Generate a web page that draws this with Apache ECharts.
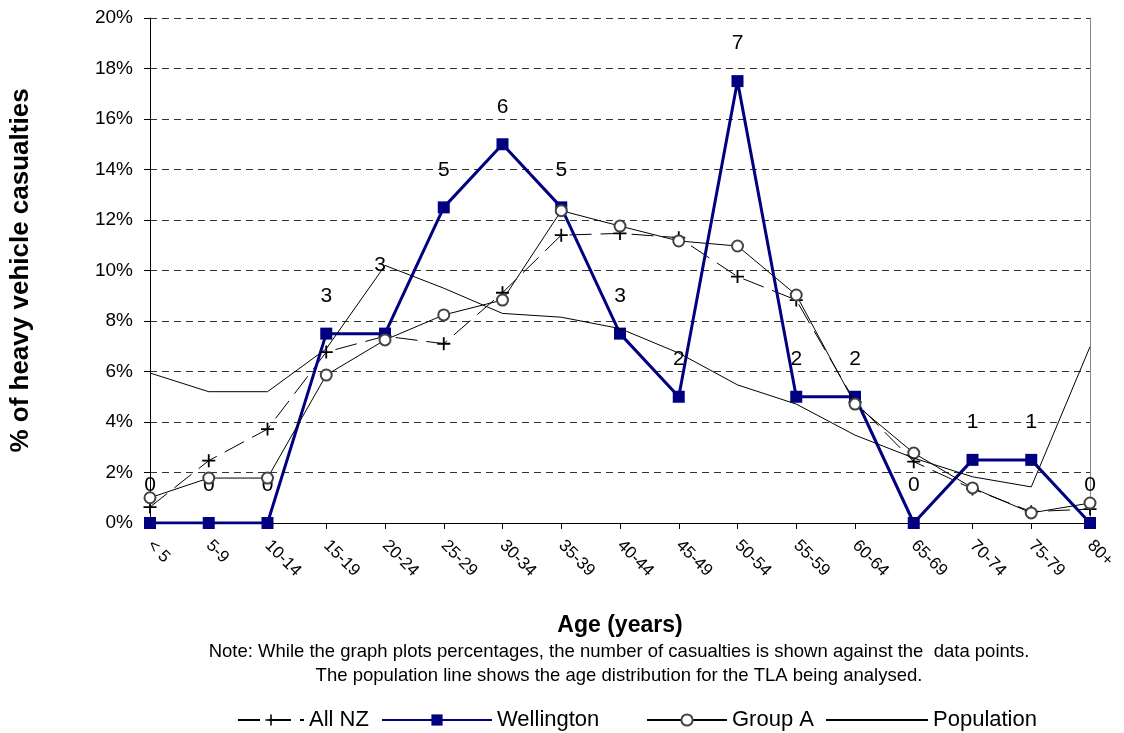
<!DOCTYPE html>
<html>
<head>
<meta charset="utf-8">
<script src="https://cdn.jsdelivr.net/npm/echarts@6/dist/echarts.min.js"></script>
<style>
html,body{margin:0;padding:0;background:#fff;}
#chart{width:1124px;height:733px;}
</style>
</head>
<body>
<div id="chart"></div>
<script>
// ---- data ----
var categories = ['< 5','5-9','10-14','15-19','20-24','25-29','30-34','35-39','40-44','45-49','50-54','55-59','60-64','65-69','70-74','75-79','80+'];
var allNZ      = [0.63, 2.47, 3.72, 6.77, 7.4, 7.1, 9.12, 11.4, 11.47, 11.3, 9.76, 8.83, 4.8, 2.43, 1.35, 0.45, 0.55];
var wellington = [0, 0, 0, 7.5, 7.5, 12.5, 15, 12.5, 7.5, 5, 17.5, 5, 5, 0, 2.5, 2.5, 0];
var wellingtonCounts = [0, 0, 0, 3, 3, 5, 6, 5, 3, 2, 7, 2, 2, 0, 1, 1, 0];
var groupA     = [1.0, 1.78, 1.78, 5.86, 7.25, 8.24, 8.83, 12.37, 11.76, 11.17, 10.97, 9.03, 4.71, 2.77, 1.39, 0.40, 0.79];
var population = [5.94, 5.2, 5.2, 6.9, 10.2, 9.3, 8.3, 8.15, 7.7, 6.73, 5.47, 4.71, 3.48, 2.57, 1.83, 1.43, 6.98];
var yTicks = {min: 0, max: 20, interval: 2};
var seriesNames = ['All NZ', 'Wellington', 'Group A', 'Population'];

var FONT = '"Liberation Sans", Arial, sans-serif';
var chart = echarts.init(document.getElementById('chart'), null, {renderer: 'canvas'});

var plusPath = 'path://M4.3,0h1.4v10h-1.4z M0,4.3h10v1.4h-10z';

var wellData = wellington.map(function (v, i) {
  var d = {value: v};
  if (i === 4) { d.label = {offset: [-5, -31]}; }
  return d;
});

function legendAt(name, left, width, extra) {
  var item = {name: name};
  if (extra) { for (var k in extra) item[k] = extra[k]; }
  return {
    top: 704,
    left: left,
    itemWidth: width,
    itemHeight: 14,
    textStyle: {fontSize: 22, color: '#000', fontFamily: FONT},
    data: [item]
  };
}

var option = {
  backgroundColor: '#ffffff',
  animation: false,
  textStyle: {fontFamily: FONT},
  grid: {left: 147, right: 34, top: 18, bottom: 210, containLabel: false},
  legend: [
    legendAt(seriesNames[0], 232, 66),
    legendAt(seriesNames[1], 376, 110),
    legendAt(seriesNames[2], 641, 80),
    legendAt(seriesNames[3], 820, 102, {itemStyle: {opacity: 0}})
  ],
  xAxis: {
    type: 'category',
    data: categories,
    boundaryGap: false,
    name: 'Age (years)',
    nameLocation: 'middle',
    nameGap: 91,
    nameTextStyle: {fontSize: 23, fontWeight: 'bold', color: '#000', fontFamily: FONT},
    axisLine: {lineStyle: {color: '#000', width: 1}},
    axisTick: {show: true, interval: 0, length: 6, lineStyle: {color: '#000'}},
    axisLabel: {interval: 0, rotate: -45, fontSize: 17, color: '#000', margin: 20, fontFamily: FONT},
    splitLine: {show: false}
  },
  yAxis: [{
    type: 'value',
    min: yTicks.min, max: yTicks.max, interval: yTicks.interval,
    name: '% of heavy vehicle casualties',
    nameLocation: 'middle',
    nameGap: 116,
    nameRotate: 90,
    nameTextStyle: {fontSize: 26, fontWeight: 'bold', color: '#000', fontFamily: FONT},
    axisLine: {show: true, lineStyle: {color: '#000', width: 1}},
    axisTick: {show: true, length: 6, lineStyle: {color: '#000'}},
    axisLabel: {formatter: '{value}%', fontSize: 19, color: '#000', margin: 17, fontFamily: FONT},
    splitLine: {show: true, lineStyle: {color: '#333', type: [7, 5], width: 1}}
  }, {
    type: 'value',
    position: 'right',
    min: yTicks.min, max: yTicks.max, interval: yTicks.interval,
    axisLine: {show: true, lineStyle: {color: '#888', width: 1}},
    axisTick: {show: false},
    axisLabel: {show: false},
    splitLine: {show: false}
  }],
  series: [
    {
      name: seriesNames[0],
      type: 'line',
      data: allNZ,
      symbol: plusPath,
      symbolSize: 13,
      itemStyle: {color: '#000'},
      lineStyle: {color: '#000', width: 1, type: [22, 9]},
      z: 2
    },
    {
      name: seriesNames[1],
      type: 'line',
      data: wellData,
      symbol: 'rect',
      symbolSize: 12,
      itemStyle: {color: '#000080'},
      lineStyle: {color: '#000080', width: 3},
      label: {
        show: true,
        position: 'top',
        distance: 21,
        fontSize: 21,
        color: '#000',
        fontFamily: FONT,
        formatter: function (p) { return String(wellingtonCounts[p.dataIndex]); }
      },
      z: 3
    },
    {
      name: seriesNames[2],
      type: 'line',
      data: groupA,
      symbol: 'circle',
      symbolSize: 11,
      itemStyle: {color: '#ffffff', borderColor: '#444', borderWidth: 2},
      lineStyle: {color: '#000', width: 1},
      z: 4
    },
    {
      name: seriesNames[3],
      type: 'line',
      data: population,
      symbol: 'none',
      itemStyle: {color: '#000'},
      lineStyle: {color: '#000', width: 1},
      z: 5
    }
  ],
  graphic: [
    {
      type: 'text', x: 619, y: 652,
      style: {text: 'Note: While the graph plots percentages, the number of casualties is shown against the  data points.', fill: '#000', font: '18.5px ' + FONT, textAlign: 'center', textVerticalAlign: 'middle'}
    },
    {
      type: 'text', x: 619, y: 676,
      style: {text: 'The population line shows the age distribution for the TLA being analysed.', fill: '#000', font: '18.5px ' + FONT, textAlign: 'center', textVerticalAlign: 'middle'}
    }
  ]
};
chart.setOption(option);
</script>
</body>
</html>
